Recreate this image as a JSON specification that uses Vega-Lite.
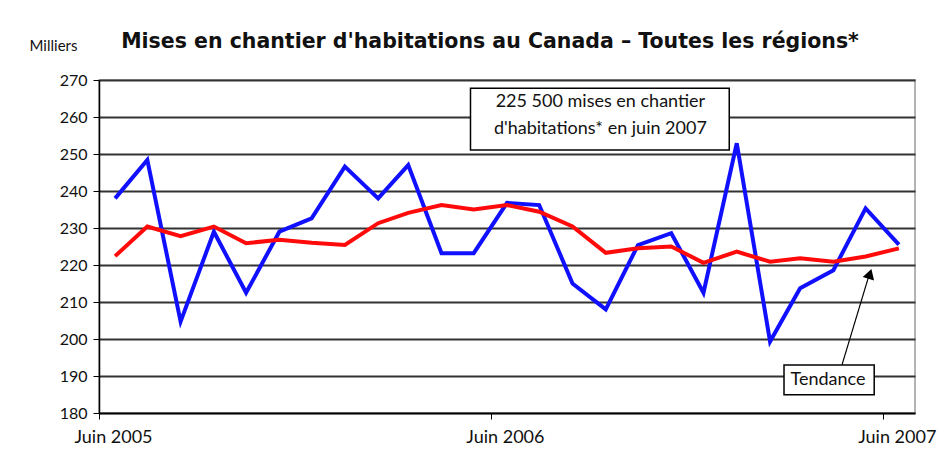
{
  "$schema": "https://vega.github.io/schema/vega-lite/v6.json",
  "autosize": {"type": "none"},
  "padding": {"left": 99, "top": 80, "right": 24, "bottom": 55},
  "width": 816,
  "height": 333,
  "background": "white",
  "config": {
    "font": "Lato",
    "view": {"stroke": "#9a9a9a", "strokeWidth": 1.5}
  },
  "title": {
    "text": "Mises en chantier d'habitations au Canada – Toutes les régions*",
    "font": "DejaVu Sans",
    "fontSize": 20.5,
    "fontWeight": "bold",
    "color": "#111",
    "anchor": "middle",
    "frame": "group",
    "dx": -17,
    "offset": -14
  },
  "datasets": {
    "series": [
      {"date": "2005-06-16", "serie": "Mises en chantier", "value": 238.0},
      {"date": "2005-07-16", "serie": "Mises en chantier", "value": 248.4},
      {"date": "2005-08-16", "serie": "Mises en chantier", "value": 204.7},
      {"date": "2005-09-16", "serie": "Mises en chantier", "value": 229.0},
      {"date": "2005-10-16", "serie": "Mises en chantier", "value": 212.5},
      {"date": "2005-11-16", "serie": "Mises en chantier", "value": 229.0},
      {"date": "2005-12-16", "serie": "Mises en chantier", "value": 232.6},
      {"date": "2006-01-16", "serie": "Mises en chantier", "value": 246.6},
      {"date": "2006-02-16", "serie": "Mises en chantier", "value": 238.0},
      {"date": "2006-03-16", "serie": "Mises en chantier", "value": 247.0},
      {"date": "2006-04-16", "serie": "Mises en chantier", "value": 223.2},
      {"date": "2006-05-16", "serie": "Mises en chantier", "value": 223.2},
      {"date": "2006-06-16", "serie": "Mises en chantier", "value": 236.8},
      {"date": "2006-07-16", "serie": "Mises en chantier", "value": 236.2},
      {"date": "2006-08-16", "serie": "Mises en chantier", "value": 215.0},
      {"date": "2006-09-16", "serie": "Mises en chantier", "value": 208.0},
      {"date": "2006-10-16", "serie": "Mises en chantier", "value": 225.4},
      {"date": "2006-11-16", "serie": "Mises en chantier", "value": 228.6},
      {"date": "2006-12-16", "serie": "Mises en chantier", "value": 212.5},
      {"date": "2007-01-16", "serie": "Mises en chantier", "value": 252.9},
      {"date": "2007-02-16", "serie": "Mises en chantier", "value": 199.3},
      {"date": "2007-03-16", "serie": "Mises en chantier", "value": 213.7},
      {"date": "2007-04-16", "serie": "Mises en chantier", "value": 218.6},
      {"date": "2007-05-16", "serie": "Mises en chantier", "value": 235.3},
      {"date": "2007-06-16", "serie": "Mises en chantier", "value": 225.5},
      {"date": "2005-06-16", "serie": "Tendance", "value": 222.4},
      {"date": "2005-07-16", "serie": "Tendance", "value": 230.4},
      {"date": "2005-08-16", "serie": "Tendance", "value": 227.8},
      {"date": "2005-09-16", "serie": "Tendance", "value": 230.4},
      {"date": "2005-10-16", "serie": "Tendance", "value": 225.9},
      {"date": "2005-11-16", "serie": "Tendance", "value": 226.8},
      {"date": "2005-12-16", "serie": "Tendance", "value": 226.0},
      {"date": "2006-01-16", "serie": "Tendance", "value": 225.4},
      {"date": "2006-02-16", "serie": "Tendance", "value": 231.3},
      {"date": "2006-03-16", "serie": "Tendance", "value": 234.1},
      {"date": "2006-04-16", "serie": "Tendance", "value": 236.2},
      {"date": "2006-05-16", "serie": "Tendance", "value": 235.0},
      {"date": "2006-06-16", "serie": "Tendance", "value": 236.2},
      {"date": "2006-07-16", "serie": "Tendance", "value": 234.4},
      {"date": "2006-08-16", "serie": "Tendance", "value": 230.4},
      {"date": "2006-09-16", "serie": "Tendance", "value": 223.3},
      {"date": "2006-10-16", "serie": "Tendance", "value": 224.5},
      {"date": "2006-11-16", "serie": "Tendance", "value": 225.0},
      {"date": "2006-12-16", "serie": "Tendance", "value": 220.6},
      {"date": "2007-01-16", "serie": "Tendance", "value": 223.6},
      {"date": "2007-02-16", "serie": "Tendance", "value": 220.9},
      {"date": "2007-03-16", "serie": "Tendance", "value": 221.8},
      {"date": "2007-04-16", "serie": "Tendance", "value": 220.9},
      {"date": "2007-05-16", "serie": "Tendance", "value": 222.3},
      {"date": "2007-06-16", "serie": "Tendance", "value": 224.5}
    ],
    "boxes": [
      {"date": "2006-05-13", "date2": "2007-01-09", "value": 267.8, "value2": 251.1},
      {"date": "2007-03-01", "date2": "2007-05-24", "value": 193.0, "value2": 184.9}
    ],
    "labels": [
      {"date": "2006-09-11", "value": 264.0, "label": "225 500 mises en chantier\nd'habitations* en juin 2007"},
      {"date": "2007-04-11", "value": 188.8, "label": "Tendance"}
    ],
    "arrow": [
      {"date": "2007-04-24", "value": 193.0, "date2": "2007-05-20", "value2": 218.0}
    ],
    "arrowhead": [
      {"date": "2007-05-20", "value": 217.6}
    ]
  },
  "encoding": {
    "x": {
      "field": "date",
      "type": "temporal",
      "scale": {
        "type": "utc",
        "domain": [
          {"year": 2005, "month": 6, "date": 1, "utc": true},
          {"year": 2007, "month": 7, "date": 1, "utc": true}
        ]
      },
      "axis": {
        "title": null,
        "values": [
          {"year": 2005, "month": 6, "date": 1, "utc": true},
          {"year": 2006, "month": 6, "date": 1, "utc": true},
          {"year": 2007, "month": 6, "date": 1, "utc": true}
        ],
        "labelExpr": "'Juin ' + utcFormat(datum.value, '%Y')",
        "grid": false,
        "domainColor": "#000",
        "domainWidth": 1.5,
        "tickColor": "#000",
        "tickSize": 6,
        "labelFont": "Lato",
        "labelFontSize": 18,
        "labelColor": "#111",
        "labelOffset": 14,
        "labelPadding": 9,
        "labelFlush": false,
        "labelOverlap": false
      }
    },
    "y": {
      "field": "value",
      "type": "quantitative",
      "scale": {"domain": [180, 270], "nice": false, "zero": false},
      "axis": {
        "title": "Milliers",
        "titleAngle": 0,
        "titleX": -46,
        "titleY": -35,
        "titleAlign": "center",
        "titleBaseline": "middle",
        "titleFont": "Lato",
        "titleFontSize": 15,
        "titleFontWeight": "normal",
        "titleColor": "#111",
        "values": [180, 190, 200, 210, 220, 230, 240, 250, 260, 270],
        "labelOverlap": false,
        "grid": true,
        "gridColor": "#333333",
        "gridWidth": 2,
        "gridOpacity": 1,
        "domainColor": "#000",
        "domainWidth": 1.5,
        "tickColor": "#000",
        "tickSize": 6,
        "labelFont": "Lato",
        "labelFontSize": 16,
        "labelColor": "#111",
        "labelPadding": 6
      }
    }
  },
  "layer": [
    {
      "data": {"name": "series"},
      "mark": {"type": "line", "strokeWidth": 4, "strokeJoin": "miter", "clip": true},
      "encoding": {
        "color": {
          "field": "serie",
          "type": "nominal",
          "scale": {"domain": ["Mises en chantier", "Tendance"], "range": ["#1010ff", "#ff0a0a"]},
          "legend": null
        },
        "order": {"field": "date", "type": "temporal"}
      }
    },
    {
      "data": {"name": "boxes"},
      "mark": {"type": "rect", "fill": "white", "stroke": "#000", "strokeWidth": 1.5},
      "encoding": {
        "x2": {"field": "date2"},
        "y2": {"field": "value2"}
      }
    },
    {
      "data": {"name": "labels"},
      "mark": {"type": "text", "font": "Lato", "fontSize": 18, "color": "#111", "lineBreak": "\n", "lineHeight": 27, "align": "center", "baseline": "middle"},
      "encoding": {
        "text": {"field": "label"}
      }
    },
    {
      "data": {"name": "arrow"},
      "mark": {"type": "rule", "color": "#000", "strokeWidth": 1.2},
      "encoding": {
        "x2": {"field": "date2"},
        "y2": {"field": "value2"}
      }
    },
    {
      "data": {"name": "arrowhead"},
      "mark": {"type": "point", "shape": "triangle-up", "filled": true, "color": "#000", "size": 140, "angle": 17, "opacity": 1},
      "encoding": {}
    }
  ]
}
